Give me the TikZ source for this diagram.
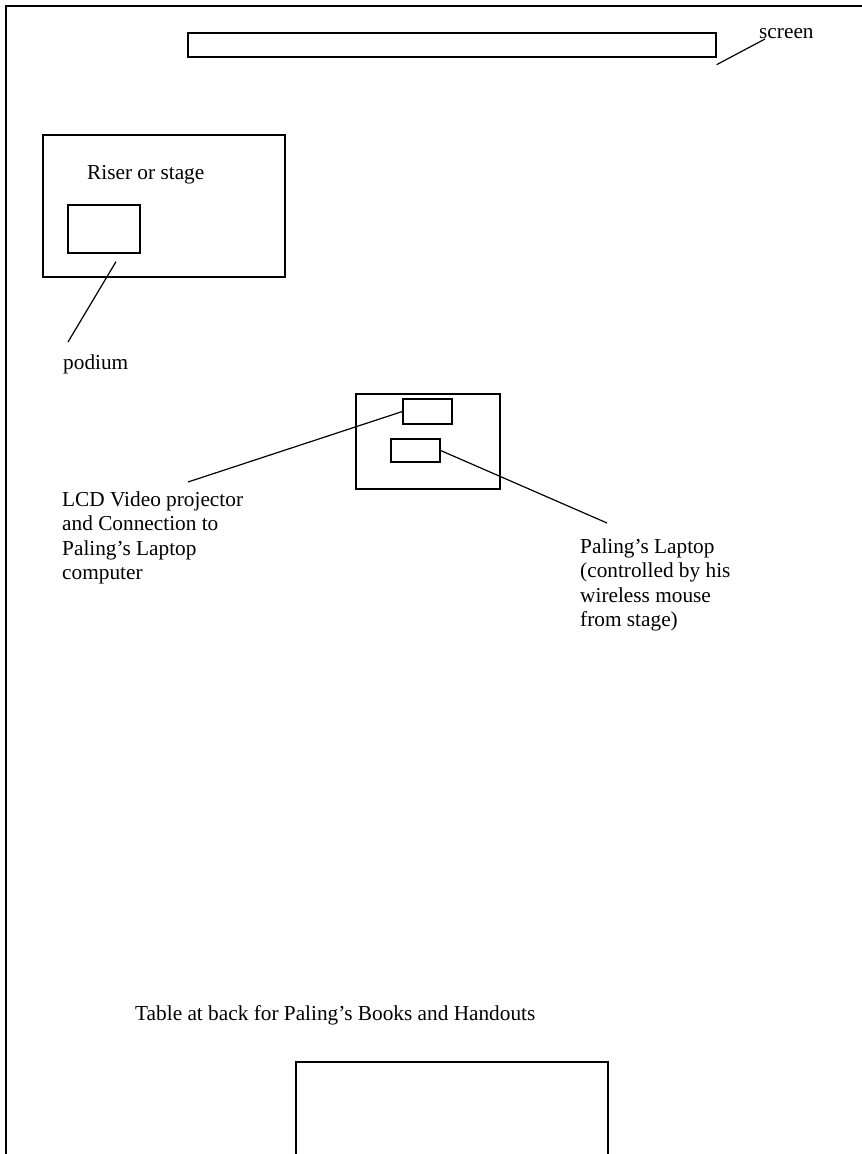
\documentclass[tikz,border=0pt]{standalone}
\usepackage{fontspec}
\setmainfont{Liberation Serif}
\usetikzlibrary{positioning}

\begin{document}
\begin{tikzpicture}[
    x=1pt, y=-1pt,
    box/.style={rectangle, draw, line width=1.3pt, inner sep=0pt},
    lbl/.style={font=\fontsize{21.3}{24.5}\selectfont, inner sep=0pt, align=left},
    leader/.style={line width=1.2pt}
]
\useasboundingbox (0,0) rectangle (862,1154);

% Walls
\draw[line width=1.5pt] (6,1154) -- (6,6) -- (862,6);

% Nodes
\node[box, minimum width=528, minimum height=24] (screen) at (452,45) {};
\node[box, minimum width=242, minimum height=142] (stage) at (164,206) {};
\node[box, minimum width=72, minimum height=48] (podium) at (104,229) {};
\node[box, minimum width=144, minimum height=95] (projtable) at (428,441.5) {};
\node[box, minimum width=49, minimum height=25] (projector) at (427.5,411.5) {};
\node[box, minimum width=49, minimum height=23] (laptop) at (415.5,450.5) {};

\node[lbl, anchor=base west] (screenlbl) at (759,38) {screen};
\node[lbl, anchor=base west] (stagelbl) at (87,179) {Riser or stage};
\node[lbl, anchor=base west] (podiumlbl) at (63,369) {podium};
\node[lbl, anchor=north west] (projlbl) at (62,491.5) {LCD Video projector\\and Connection to\\Paling’s Laptop\\computer};
\node[lbl, anchor=north west] (laptoplbl) at (580,538.5) {Paling’s Laptop\\(controlled by his\\wireless mouse\\from stage)};
\node[lbl, anchor=base west] (tablelbl) at (135,1020) {Table at back for Paling’s Books and Handouts};

% Back table, cut off by the page edge
\draw[line width=1.3pt] (296,1154) -- (296,1062) -- (608,1062) -- (608,1154);

% Leaders
\coordinate (screenend) at (765,39);
\coordinate (podiumend) at (68,342);
\coordinate (projend) at (188,482);
\coordinate (laptopend) at (607,523);

\draw[leader] ([yshift=-7pt]screen.south east) -- (screenend);
\draw[leader] ([xshift=12pt,yshift=-8pt]podium.south) -- (podiumend);
\draw[leader] (projector.west) -- (projend);
\draw[leader] (laptop.east) -- (laptopend);

\end{tikzpicture}
\end{document}
